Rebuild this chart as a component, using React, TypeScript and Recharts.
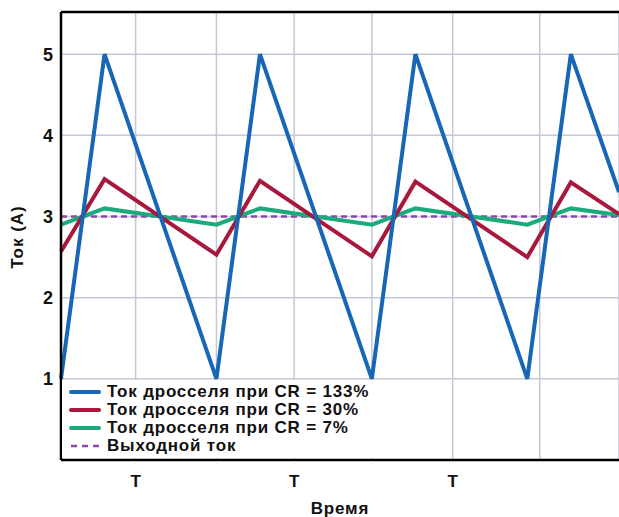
import {
  LineChart,
  Line,
  CartesianGrid,
  XAxis,
  YAxis,
  ReferenceLine,
  Legend,
  Label,
} from "recharts";

// time in switching periods
const time = [0, 0.28, 1, 1.28, 2, 2.28, 3, 3.28, 3.59];
const cr133 = [1, 5, 1, 5, 1, 5, 1, 5, 3.3];
const cr30 = [2.57, 3.46, 2.53, 3.44, 2.51, 3.43, 2.5, 3.42, 3.03];
const cr7 = [2.9, 3.1, 2.9, 3.1, 2.9, 3.1, 2.9, 3.1, 3.02];
const outCurrent = [3, 3, 3, 3, 3, 3, 3, 3, 3];

const xTicks = [0.48, 1, 1.5, 2, 2.52, 3.08];
const xTickLabels = ["T", "", "T", "", "T", ""];
const yTicks = [1, 2, 3, 4, 5];

const seriesNames = [
  "Ток дросселя при CR = 133%",
  "Ток дросселя при CR = 30%",
  "Ток дросселя при CR = 7%",
  "Выходной ток",
];
const xTitle = "Время";
const yTitle = "Ток (A)";

const X_MAX = 3.59;
const Y_MAX = 5.52;

const colors = ["#1767b6", "#a8183c", "#1aaa7b", "#8e45ae"];
const font = "'Liberation Sans', Arial, sans-serif";

const data = time.map((t, i) => ({
  t,
  a: cr133[i],
  b: cr30[i],
  c: cr7[i],
  d: outCurrent[i],
}));

const renderLegend = () => (
  <div style={{ padding: "3px 0 0 7px", fontFamily: font }}>
    {seriesNames.map((name, i) => (
      <div
        key={name}
        style={{ display: "flex", alignItems: "center", height: 18 }}
      >
        <svg width={32} height={8}>
          <line
            x1={2}
            x2={30}
            y1={4}
            y2={4}
            stroke={colors[i]}
            strokeWidth={i === 3 ? 2.5 : 4}
            strokeLinecap={i === 3 ? "butt" : "round"}
            strokeDasharray={i === 3 ? "6 5" : undefined}
          />
        </svg>
        <span
          style={{
            marginLeft: 6,
            fontWeight: "bold",
            fontSize: 17,
            letterSpacing: 0.8,
            color: "#111",
            whiteSpace: "nowrap",
          }}
        >
          {name}
        </span>
      </div>
    ))}
  </div>
);

const tickStyle = {
  fontFamily: font,
  fontWeight: "bold",
  fontSize: 17,
  fill: "#111",
};

const App = () => {
  return (
    <div style={{ position: "absolute", left: 0, top: 0 }}>
      <LineChart
        width={619}
        height={517}
        data={data}
        margin={{ top: 12, right: 0, bottom: 0, left: 0 }}
      >
        <CartesianGrid stroke="#c6c8d8" strokeWidth={1.5} />
        <XAxis
          dataKey="t"
          type="number"
          domain={[0, X_MAX]}
          ticks={xTicks}
          interval={0}
          tickFormatter={(v: number) => xTickLabels[xTicks.indexOf(v)]}
          height={57}
          tickLine={false}
          tickSize={0}
          tickMargin={15}
          axisLine={{ stroke: "#000", strokeWidth: 2.5 }}
          tick={tickStyle}
        >
          <Label
            value={xTitle}
            position="insideBottom"
            offset={3}
            style={{ ...tickStyle, letterSpacing: 0.8 }}
          />
        </XAxis>
        <YAxis
          type="number"
          domain={[0, Y_MAX]}
          ticks={yTicks}
          width={61}
          tickLine={false}
          tickSize={0}
          tickMargin={8}
          axisLine={{ stroke: "#000", strokeWidth: 2.5 }}
          tick={{ ...tickStyle, fontSize: 18 }}
        >
          <Label
            content={() => (
              <text
                x={17}
                y={237}
                transform="rotate(-90, 17, 237)"
                textAnchor="middle"
                dominantBaseline="central"
                style={{ ...tickStyle, letterSpacing: 1 }}
              >
                {yTitle}
              </text>
            )}
          />
        </YAxis>
        <ReferenceLine y={Y_MAX} stroke="#000" strokeWidth={2.5} />
        <Line
          dataKey="d"
          name={seriesNames[3]}
          type="linear"
          stroke={colors[3]}
          strokeWidth={2.5}
          strokeDasharray="6 4"
          dot={false}
          isAnimationActive={false}
        />
        <Line
          dataKey="c"
          name={seriesNames[2]}
          type="linear"
          stroke={colors[2]}
          strokeWidth={4}
          dot={false}
          isAnimationActive={false}
        />
        <Line
          dataKey="b"
          name={seriesNames[1]}
          type="linear"
          stroke={colors[1]}
          strokeWidth={4}
          dot={false}
          isAnimationActive={false}
        />
        <Line
          dataKey="a"
          name={seriesNames[0]}
          type="linear"
          stroke={colors[0]}
          strokeWidth={4}
          dot={false}
          isAnimationActive={false}
        />
        <Legend
          layout="vertical"
          align="center"
          verticalAlign="middle"
          wrapperStyle={{
            left: 62,
            top: 380,
            width: 312,
            height: 78,
            background: "#fff",
          }}
          content={renderLegend}
        />
      </LineChart>
    </div>
  );
};

export default App;
